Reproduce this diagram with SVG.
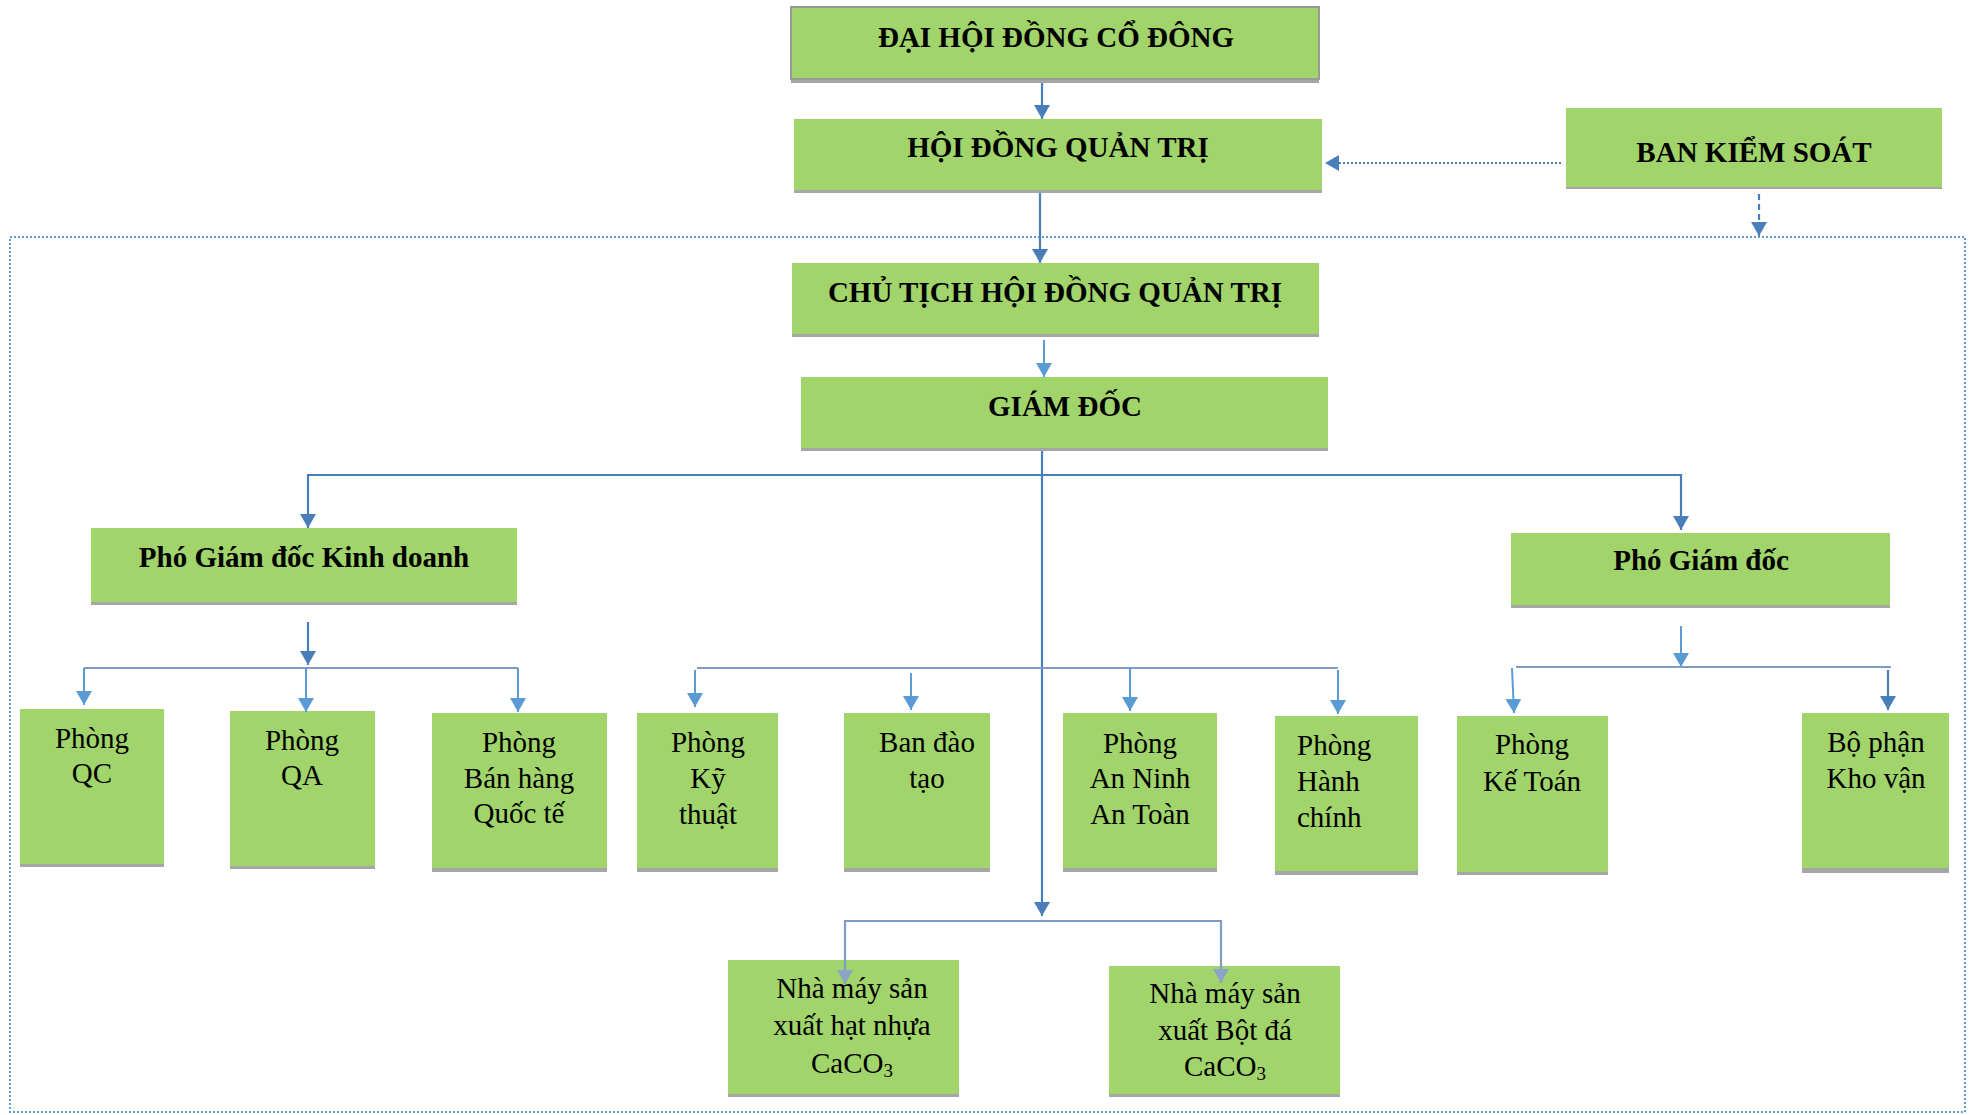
<svg xmlns="http://www.w3.org/2000/svg" width="1970" height="1115" viewBox="0 0 1970 1115">
<defs>
<style>
.box{fill:#A1D46A}
.sh{fill:#A6A6A6}
.t{font-family:"Liberation Serif","Times New Roman",serif;font-size:29px;fill:#000;text-anchor:middle}
.ts{text-anchor:start}
.b{font-weight:bold}
.c{fill:none;stroke:#4A7EBB;stroke-width:2.2}
.cl{fill:none;stroke:#5B9BD5;stroke-width:2}
.cg{fill:none;stroke:#7F9CC4;stroke-width:2.2}
</style>
<marker id="ad" markerUnits="userSpaceOnUse" viewBox="0 0 14 16" markerWidth="14" markerHeight="16" refX="14" refY="8" orient="auto"><path d="M0,0 L14,8 L0,16 z" fill="#4A7EBB"/></marker>
<marker id="al" markerUnits="userSpaceOnUse" viewBox="0 0 14 16" markerWidth="14" markerHeight="16" refX="14" refY="8" orient="auto"><path d="M0,0 L14,8 L0,16 z" fill="#5B9BD5"/></marker>
<marker id="ag" markerUnits="userSpaceOnUse" viewBox="0 0 14 16" markerWidth="14" markerHeight="16" refX="14" refY="8" orient="auto"><path d="M0,0 L14,8 L0,16 z" fill="#8DA3C6"/></marker>
</defs>
<rect width="1970" height="1115" fill="#fff"/>
<rect x="10" y="237" width="1955" height="875" fill="none" stroke="#5B9BD5" stroke-width="2" stroke-dasharray="2 2"/>
<g id="dhcd"><rect class="sh" x="791" y="7" width="528" height="76"/><rect class="box" x="791" y="7" width="528" height="72" stroke="#9a9a9a" stroke-width="2"/><text class="t b" x="1056" y="47">ĐẠI HỘI ĐỒNG CỔ ĐÔNG</text></g>
<g id="hdqt"><rect class="sh" x="794" y="119" width="528" height="74"/><rect class="box" x="794" y="119" width="528" height="71"/><text class="t b" x="1058" y="157">HỘI ĐỒNG QUẢN TRỊ</text></g>
<g id="bks"><rect class="sh" x="1566" y="108" width="376" height="81"/><rect class="box" x="1566" y="108" width="376" height="79"/><text class="t b" x="1754" y="162">BAN KIỂM SOÁT</text></g>
<g id="ct"><rect class="sh" x="792" y="263" width="527" height="74"/><rect class="box" x="792" y="263" width="527" height="71"/><text class="t b" x="1055" y="302">CHỦ TỊCH HỘI ĐỒNG QUẢN TRỊ</text></g>
<g id="gd"><rect class="sh" x="801" y="377" width="527" height="74"/><rect class="box" x="801" y="377" width="527" height="71"/><text class="t b" x="1065" y="416">GIÁM ĐỐC</text></g>
<g id="pgdkd"><rect class="sh" x="91" y="528" width="426" height="77"/><rect class="box" x="91" y="528" width="426" height="74"/><text class="t b" x="304" y="567">Phó Giám đốc Kinh doanh</text></g>
<g id="pgd"><rect class="sh" x="1511" y="533" width="379" height="75"/><rect class="box" x="1511" y="533" width="379" height="72"/><text class="t b" x="1701" y="570">Phó Giám đốc</text></g>
<g id="qc"><rect class="sh" x="20" y="709" width="144" height="158"/><rect class="box" x="20" y="709" width="144" height="155"/><text class="t" x="92" y="748">Phòng</text><text class="t" x="92" y="783">QC</text></g>
<g id="qa"><rect class="sh" x="230" y="711" width="145" height="158"/><rect class="box" x="230" y="711" width="145" height="155"/><text class="t" x="302" y="750">Phòng</text><text class="t" x="302" y="785">QA</text></g>
<g id="bh"><rect class="sh" x="432" y="713" width="175" height="159"/><rect class="box" x="432" y="713" width="175" height="155"/><text class="t" x="519" y="752">Phòng</text><text class="t" x="519" y="788">Bán hàng</text><text class="t" x="519" y="823">Quốc tế</text></g>
<g id="kt"><rect class="sh" x="637" y="713" width="141" height="159"/><rect class="box" x="637" y="713" width="141" height="155"/><text class="t" x="708" y="752">Phòng</text><text class="t" x="708" y="788">Kỹ</text><text class="t" x="708" y="824">thuật</text></g>
<g id="bdt"><rect class="sh" x="844" y="713" width="146" height="159"/><rect class="box" x="844" y="713" width="146" height="155"/><text class="t" x="927" y="752">Ban đào</text><text class="t" x="927" y="788">tạo</text></g>
<g id="an"><rect class="sh" x="1063" y="713" width="154" height="159"/><rect class="box" x="1063" y="713" width="154" height="155"/><text class="t" x="1140" y="753">Phòng</text><text class="t" x="1140" y="788">An Ninh</text><text class="t" x="1140" y="824">An Toàn</text></g>
<g id="hc"><rect class="sh" x="1275" y="716" width="143" height="159"/><rect class="box" x="1275" y="716" width="143" height="155"/><text class="t ts" x="1297" y="755">Phòng</text><text class="t ts" x="1297" y="791">Hành</text><text class="t ts" x="1297" y="827">chính</text></g>
<g id="kto"><rect class="sh" x="1457" y="716" width="151" height="159"/><rect class="box" x="1457" y="716" width="151" height="156"/><text class="t" x="1532" y="754">Phòng</text><text class="t" x="1532" y="791">Kế Toán</text></g>
<g id="kv"><rect class="sh" x="1802" y="713" width="147" height="160"/><rect class="box" x="1802" y="713" width="147" height="155"/><text class="t" x="1876" y="752">Bộ phận</text><text class="t" x="1876" y="788">Kho vận</text></g>
<g id="nm1"><rect class="sh" x="728" y="960" width="231" height="137"/><rect class="box" x="728" y="960" width="231" height="134"/><text class="t" x="852" y="998">Nhà máy sản</text><text class="t" x="852" y="1035">xuất hạt nhựa</text><text class="t" x="852" y="1073">CaCO<tspan font-size="19px" dy="4">3</tspan></text></g>
<g id="nm2"><rect class="sh" x="1109" y="966" width="231" height="131"/><rect class="box" x="1109" y="966" width="231" height="128"/><text class="t" x="1225" y="1003">Nhà máy sản</text><text class="t" x="1225" y="1040">xuất Bột đá</text><text class="t" x="1225" y="1076">CaCO<tspan font-size="19px" dy="4">3</tspan></text></g>
<g id="connectors">
<line class="c" x1="1042" y1="83" x2="1042" y2="119" marker-end="url(#ad)"/>
<line class="c" x1="1040" y1="193" x2="1040" y2="263" marker-end="url(#ad)"/>
<line class="cl" x1="1044" y1="340" x2="1044" y2="377" marker-end="url(#al)"/>
<line class="c" x1="1561" y1="163" x2="1325" y2="163" stroke-dasharray="2 2" marker-end="url(#ad)"/>
<line class="c" x1="1759" y1="194" x2="1759" y2="236" stroke-dasharray="6 4" marker-end="url(#ad)"/>
<line class="c" x1="1042" y1="451" x2="1042" y2="916" marker-end="url(#ad)"/>
<path class="c" d="M1042,475 H308 V528" marker-end="url(#ad)"/>
<path class="c" d="M1042,475 H1681 V530" marker-end="url(#ad)"/>
<line class="c" x1="308" y1="622" x2="308" y2="665" marker-end="url(#ad)"/>
<line class="cg" x1="84" y1="668" x2="518" y2="668"/>
<line class="cl" x1="84" y1="668" x2="84" y2="705" marker-end="url(#al)"/>
<line class="cl" x1="306" y1="668" x2="306" y2="712" marker-end="url(#al)"/>
<line class="cl" x1="518" y1="668" x2="518" y2="712" marker-end="url(#al)"/>
<line class="cg" x1="697" y1="668" x2="1338" y2="668"/>
<line class="cl" x1="695" y1="670" x2="695" y2="707" marker-end="url(#al)"/>
<line class="cl" x1="911" y1="673" x2="911" y2="710" marker-end="url(#al)"/>
<line class="cl" x1="1130" y1="668" x2="1130" y2="711" marker-end="url(#al)"/>
<line class="cl" x1="1338" y1="670" x2="1338" y2="714" marker-end="url(#al)"/>
<line class="cl" x1="1681" y1="626" x2="1681" y2="667" marker-end="url(#al)"/>
<line class="cg" x1="1516" y1="667" x2="1891" y2="667"/>
<line class="cl" x1="1512" y1="668" x2="1514" y2="713" marker-end="url(#al)"/>
<line class="c" x1="1888" y1="670" x2="1888" y2="710" marker-end="url(#ad)"/>
<line class="cg" x1="845" y1="921" x2="1221" y2="921"/>
<line class="cg" x1="845" y1="920" x2="845" y2="984" marker-end="url(#ag)"/>
<line class="cg" x1="1221" y1="920" x2="1221" y2="983" marker-end="url(#ag)"/>
</g>
</svg>
